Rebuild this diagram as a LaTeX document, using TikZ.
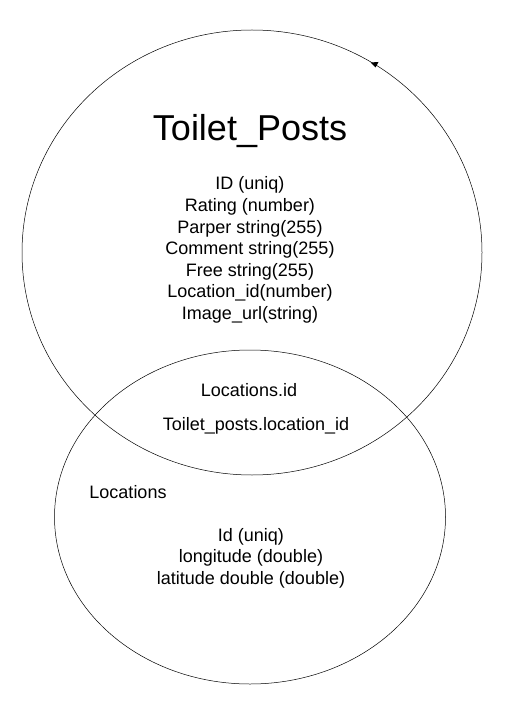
\documentclass[tikz,border=0pt]{standalone}
\usepackage{fontspec}
\setmainfont{Liberation Sans}
\tikzset{
	field/.style={align=center, font=\fontsize{18}{21.6}\selectfont, inner sep=0pt},
	title/.style={font=\fontsize{36}{43}\selectfont, inner sep=0pt}
}
\begin{document}
\begin{tikzpicture}[x=1pt, y=-1pt]
			%%%%% START %%%%%
			\useasboundingbox (0, 0) rectangle (509, 708);
			
			\draw[line width=0.5pt] (252, 252.5) ellipse (230 and 222.5);
			\draw[line width=0.5pt] (250, 517) ellipse (195.5 and 167);
			\fill[black] (370.5, 62.5) -- (378.5, 62) -- (375.5, 67.5) -- cycle;
			
			\node[title] (posts) at (250, 131) {Toilet\_Posts};
			\node[field] (postfields) at (250, 250) {ID (uniq)\\Rating (number)\\Parper string(255)\\Comment string(255)\\Free string(255)\\Location\_id(number)\\Image\_url(string)};
			
			\node[field] (locid) at (249, 390) {Locations.id};
			\node[field] (postlocid) at (256, 426) {Toilet\_posts.location\_id};
			
			\node[field] (locations) at (128, 492) {Locations};
			\node[field] (locfields) at (251, 558) {Id (uniq)\\longitude (double)\\latitude double (double)};
			%%%%% END %%%%%
\end{tikzpicture}
\end{document}
